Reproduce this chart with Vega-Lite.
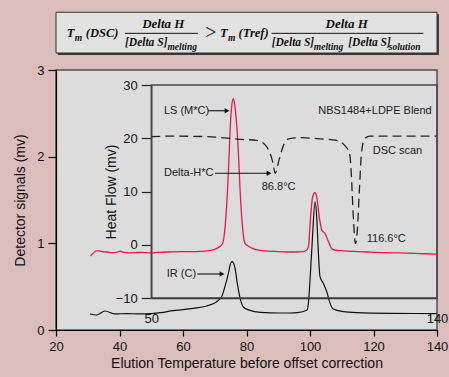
{
  "$schema": "https://vega.github.io/schema/vega-lite/v6.json",
  "width": 381,
  "height": 260,
  "autosize": {"type": "none"},
  "padding": {"left": 56, "top": 70, "right": 12, "bottom": 47},
  "background": "#dbbdbc",
  "config": {
    "view": {"fill": "#dcdcdc", "stroke": "#505050", "strokeWidth": 1.5},
    "axis": {
      "grid": false,
      "labelFont": "Liberation Sans",
      "titleFont": "Liberation Sans",
      "labelFontSize": 13,
      "titleFontSize": 14,
      "titleFontWeight": "normal",
      "labelColor": "#111",
      "titleColor": "#111",
      "domainColor": "#000",
      "tickColor": "#000",
      "domainWidth": 1.2,
      "tickWidth": 1.2,
      "labelFlush": false,
      "labelOverlap": false
    }
  },
  "datasets": {
    "ls": [
      {"T": 30.9, "v": 0.854}, {"T": 31.8, "v": 0.89}, {"T": 33.0, "v": 0.915}, {"T": 34.5, "v": 0.905},
      {"T": 36, "v": 0.9}, {"T": 37.5, "v": 0.893}, {"T": 39, "v": 0.895}, {"T": 40.2, "v": 0.91},
      {"T": 41.5, "v": 0.895}, {"T": 43, "v": 0.89}, {"T": 45, "v": 0.893}, {"T": 47, "v": 0.896},
      {"T": 49.6, "v": 0.89}, {"T": 52, "v": 0.895}, {"T": 55, "v": 0.9}, {"T": 58, "v": 0.902},
      {"T": 61, "v": 0.905}, {"T": 64, "v": 0.905}, {"T": 67, "v": 0.91}, {"T": 70, "v": 0.93},
      {"T": 71.5, "v": 0.96}, {"T": 72.5, "v": 1.0}, {"T": 73.0, "v": 1.1}, {"T": 73.5, "v": 1.3},
      {"T": 74.1, "v": 1.67}, {"T": 74.5, "v": 2.0}, {"T": 75.0, "v": 2.42}, {"T": 75.4, "v": 2.6},
      {"T": 75.85, "v": 2.67}, {"T": 76.3, "v": 2.6}, {"T": 76.8, "v": 2.42}, {"T": 77.3, "v": 2.15},
      {"T": 77.7, "v": 1.85}, {"T": 78.0, "v": 1.6}, {"T": 78.5, "v": 1.3}, {"T": 79.0, "v": 1.1},
      {"T": 79.5, "v": 1.0}, {"T": 80.5, "v": 0.97}, {"T": 82, "v": 0.94}, {"T": 85, "v": 0.915},
      {"T": 90, "v": 0.905}, {"T": 95, "v": 0.9}, {"T": 98, "v": 0.905}, {"T": 99.0, "v": 0.925},
      {"T": 99.5, "v": 0.96}, {"T": 100.2, "v": 1.31}, {"T": 100.85, "v": 1.54}, {"T": 101.57, "v": 1.585},
      {"T": 102.1, "v": 1.54}, {"T": 102.9, "v": 1.31}, {"T": 103.7, "v": 1.154}, {"T": 104.7, "v": 1.115},
      {"T": 105.8, "v": 1.02}, {"T": 106.8, "v": 0.94}, {"T": 108, "v": 0.92}, {"T": 110, "v": 0.915},
      {"T": 112, "v": 0.91}, {"T": 115, "v": 0.905}, {"T": 118, "v": 0.9}, {"T": 121, "v": 0.895},
      {"T": 124, "v": 0.893}, {"T": 127, "v": 0.89}, {"T": 130, "v": 0.887}, {"T": 133, "v": 0.885},
      {"T": 136, "v": 0.88}, {"T": 140, "v": 0.875}
    ],
    "ir": [
      {"T": 30.7, "v": 0.185}, {"T": 32.8, "v": 0.173}, {"T": 35.4, "v": 0.219}, {"T": 38.6, "v": 0.185},
      {"T": 42.3, "v": 0.19}, {"T": 46.5, "v": 0.185}, {"T": 50, "v": 0.19}, {"T": 53, "v": 0.2},
      {"T": 56.9, "v": 0.223}, {"T": 60, "v": 0.235}, {"T": 63.2, "v": 0.25}, {"T": 67.5, "v": 0.277},
      {"T": 70.6, "v": 0.327}, {"T": 72.2, "v": 0.385}, {"T": 73.2, "v": 0.5}, {"T": 74.3, "v": 0.654},
      {"T": 75.0, "v": 0.769}, {"T": 75.5, "v": 0.789}, {"T": 76.4, "v": 0.712}, {"T": 77.1, "v": 0.538},
      {"T": 78.0, "v": 0.365}, {"T": 79.0, "v": 0.265}, {"T": 81.1, "v": 0.227}, {"T": 84.3, "v": 0.204},
      {"T": 90.6, "v": 0.196}, {"T": 93.7, "v": 0.196}, {"T": 96, "v": 0.2}, {"T": 99.0, "v": 0.227},
      {"T": 99.5, "v": 0.31}, {"T": 100.0, "v": 0.577}, {"T": 100.5, "v": 0.885}, {"T": 100.85, "v": 1.115},
      {"T": 101.57, "v": 1.48}, {"T": 102.1, "v": 1.31}, {"T": 102.6, "v": 0.923}, {"T": 103.15, "v": 0.615},
      {"T": 104.2, "v": 0.538}, {"T": 105.3, "v": 0.44}, {"T": 106.3, "v": 0.31}, {"T": 107.3, "v": 0.242},
      {"T": 110.5, "v": 0.212}, {"T": 114.7, "v": 0.2}, {"T": 125.2, "v": 0.192}, {"T": 139.9, "v": 0.19}
    ],
    "dsc": [
      {"T": 50, "h": 20.3}, {"T": 56.9, "h": 20.4}, {"T": 67.5, "h": 20.3}, {"T": 78.0, "h": 19.8},
      {"T": 83.2, "h": 19.6}, {"T": 85.8, "h": 18.8}, {"T": 87.4, "h": 17.2}, {"T": 88.4, "h": 15.2},
      {"T": 89.0, "h": 13.4}, {"T": 90.2, "h": 15.8}, {"T": 91.8, "h": 18.9}, {"T": 93.3, "h": 19.9},
      {"T": 96.9, "h": 20.1}, {"T": 103, "h": 19.9}, {"T": 108.4, "h": 19.6}, {"T": 111.0, "h": 18.6},
      {"T": 112.4, "h": 17.2}, {"T": 112.9, "h": 14.5}, {"T": 113.3, "h": 9.6}, {"T": 113.7, "h": 4.6},
      {"T": 114.3, "h": 0.2}, {"T": 114.9, "h": 2.7}, {"T": 115.6, "h": 10.8}, {"T": 116.2, "h": 17.1},
      {"T": 117.2, "h": 19.9}, {"T": 118.9, "h": 20.4}, {"T": 140, "h": 20.4}
    ],
    "labels": [
      {"T": 54.0, "v": 2.53, "text": "LS (M*C)"},
      {"T": 54.0, "v": 1.808, "text": "Delta-H*C"},
      {"T": 84.8, "v": 1.647, "text": "86.8°C"},
      {"T": 102.6, "v": 2.53, "text": "NBS1484+LDPE Blend"},
      {"T": 119.75, "v": 2.069, "text": "DSC scan"},
      {"T": 117.87, "v": 1.047, "text": "116.6°C"},
      {"T": 54.87, "v": 0.646, "text": "IR (C)"}
    ],
    "arrows": [
      {"T": 67.87, "T2": 73.86, "v": 2.53},
      {"T": 70.08, "T2": 87.09, "v": 1.808},
      {"T": 64.5, "T2": 72.28, "v": 0.646}
    ],
    "formula": [
      {"T": 23.4, "v": 3.427, "text": "T", "part": "main"},
      {"T": 25.9, "v": 3.375, "text": "m", "part": "sub"},
      {"T": 29.4, "v": 3.427, "text": "(DSC)", "part": "main"},
      {"T": 53.8, "v": 3.531, "text": "Delta H", "part": "center"},
      {"T": 41.73, "v": 3.311, "text": "[Delta S]", "part": "den"},
      {"T": 55.1, "v": 3.27, "text": "melting", "part": "sub"},
      {"T": 68.82, "v": 3.427, "text": ">", "part": "op"},
      {"T": 71.65, "v": 3.427, "text": "T", "part": "main"},
      {"T": 74.15, "v": 3.375, "text": "m", "part": "sub"},
      {"T": 77.5, "v": 3.427, "text": "(Tref)", "part": "main"},
      {"T": 111.54, "v": 3.531, "text": "Delta H", "part": "center"},
      {"T": 87.94, "v": 3.311, "text": "[Delta S]", "part": "den"},
      {"T": 101.2, "v": 3.27, "text": "melting", "part": "sub"},
      {"T": 112.06, "v": 3.311, "text": "[Delta S]", "part": "den"},
      {"T": 124.8, "v": 3.27, "text": "solution", "part": "sub"}
    ],
    "fracs": [
      {"T": 41.7, "T2": 64.7, "v": 3.423},
      {"T": 87.9, "T2": 135.7, "v": 3.423}
    ]
  },
  "layer": [
    {
      "layer": [
        {
          "data": {"values": [{}]},
          "mark": {"type": "rect", "color": "#3a3a3a"},
          "encoding": {
            "x": {"datum": 20.6, "type": "quantitative", "scale": {"domain": [20, 140], "nice": false, "zero": false}},
            "x2": {"datum": 140.6},
            "y": {"datum": 3.643, "type": "quantitative", "scale": {"domain": [0, 3], "nice": false, "zero": false}},
            "y2": {"datum": 3.173}
          }
        },
        {
          "data": {"values": [{}]},
          "mark": {"type": "rect", "fill": "#e2e2e2", "stroke": "#333", "strokeWidth": 1},
          "encoding": {
            "x": {"datum": 20, "type": "quantitative"},
            "x2": {"datum": 140},
            "y": {"datum": 3.666, "type": "quantitative"},
            "y2": {"datum": 3.196}
          }
        },
        {
          "data": {"name": "ls"},
          "mark": {"type": "line", "color": "#e8194b", "strokeWidth": 1.3, "interpolate": "monotone"},
          "encoding": {
            "x": {
              "field": "T", "type": "quantitative",
              "scale": {"domain": [20, 140], "nice": false, "zero": false},
              "axis": {
                "title": "Elution Temperature before offset correction",
                "values": [20, 30, 40, 50, 60, 70, 80, 90, 100, 110, 120, 130, 140],
                "labelExpr": "datum.value % 20 === 0 ? datum.label : ''",
                "tickSize": 6, "labelPadding": 4, "titlePadding": 3
              }
            },
            "y": {
              "field": "v", "type": "quantitative",
              "scale": {"domain": [0, 3], "nice": false, "zero": false},
              "axis": {
                "title": "Detector signals (mv)",
                "values": [0, 1, 2, 3],
                "format": "d",
                "tickSize": 8, "labelPadding": 4, "titlePadding": 9
              }
            }
          }
        },
        {
          "data": {"name": "ir"},
          "mark": {"type": "line", "color": "#111", "strokeWidth": 1.2, "interpolate": "monotone"},
          "encoding": {
            "x": {"field": "T", "type": "quantitative"},
            "y": {"field": "v", "type": "quantitative"}
          }
        },
        {
          "data": {"name": "labels"},
          "mark": {"type": "text", "align": "left", "baseline": "middle", "font": "Liberation Sans", "fontSize": 11, "color": "#222"},
          "encoding": {
            "x": {"field": "T", "type": "quantitative"},
            "y": {"field": "v", "type": "quantitative"},
            "text": {"field": "text"}
          }
        },
        {
          "data": {"name": "arrows"},
          "mark": {"type": "rule", "color": "#111", "strokeWidth": 1.1},
          "encoding": {
            "x": {"field": "T", "type": "quantitative"},
            "x2": {"field": "T2"},
            "y": {"field": "v", "type": "quantitative"}
          }
        },
        {
          "data": {"name": "arrows"},
          "mark": {"type": "point", "shape": "triangle-right", "filled": true, "size": 30, "color": "#111", "opacity": 1},
          "encoding": {
            "x": {"field": "T2", "type": "quantitative"},
            "y": {"field": "v", "type": "quantitative"}
          }
        },
        {
          "data": {"name": "fracs"},
          "mark": {"type": "rule", "color": "#111", "strokeWidth": 1},
          "encoding": {
            "x": {"field": "T", "type": "quantitative"},
            "x2": {"field": "T2"},
            "y": {"field": "v", "type": "quantitative"}
          }
        },
        {
          "data": {"name": "formula"},
          "transform": [{"filter": "datum.part === 'main'"}],
          "mark": {"type": "text", "align": "left", "baseline": "middle", "font": "Liberation Serif", "fontStyle": "italic", "fontWeight": "bold", "fontSize": 12.5, "color": "#111"},
          "encoding": {
            "x": {"field": "T", "type": "quantitative"},
            "y": {"field": "v", "type": "quantitative"},
            "text": {"field": "text"}
          }
        },
        {
          "data": {"name": "formula"},
          "transform": [{"filter": "datum.part === 'den'"}],
          "mark": {"type": "text", "align": "left", "baseline": "middle", "font": "Liberation Serif", "fontStyle": "italic", "fontWeight": "bold", "fontSize": 11.5, "color": "#111"},
          "encoding": {
            "x": {"field": "T", "type": "quantitative"},
            "y": {"field": "v", "type": "quantitative"},
            "text": {"field": "text"}
          }
        },
        {
          "data": {"name": "formula"},
          "transform": [{"filter": "datum.part === 'center'"}],
          "mark": {"type": "text", "align": "center", "baseline": "middle", "font": "Liberation Serif", "fontStyle": "italic", "fontWeight": "bold", "fontSize": 13, "color": "#111"},
          "encoding": {
            "x": {"field": "T", "type": "quantitative"},
            "y": {"field": "v", "type": "quantitative"},
            "text": {"field": "text"}
          }
        },
        {
          "data": {"name": "formula"},
          "transform": [{"filter": "datum.part === 'sub'"}],
          "mark": {"type": "text", "align": "left", "baseline": "middle", "font": "Liberation Serif", "fontStyle": "italic", "fontWeight": "bold", "fontSize": 9.5, "color": "#111"},
          "encoding": {
            "x": {"field": "T", "type": "quantitative"},
            "y": {"field": "v", "type": "quantitative"},
            "text": {"field": "text"}
          }
        },
        {
          "data": {"name": "formula"},
          "transform": [{"filter": "datum.part === 'op'"}],
          "mark": {"type": "text", "align": "center", "baseline": "middle", "font": "Liberation Serif", "fontSize": 20, "color": "#111"},
          "encoding": {
            "x": {"field": "T", "type": "quantitative"},
            "y": {"field": "v", "type": "quantitative"},
            "text": {"field": "text"}
          }
        }
      ]
    },
    {
      "layer": [
        {
          "data": {"name": "dsc"},
          "mark": {"type": "line", "color": "#222", "strokeWidth": 1.3, "strokeDash": [9, 5], "interpolate": "monotone"},
          "encoding": {
            "x": {
              "field": "T", "type": "quantitative",
              "scale": {"domain": [50, 140], "range": [95.25, 381], "nice": false, "zero": false},
              "axis": {"orient": "bottom", "offset": -32, "values": [50, 140], "ticks": false, "tickSize": 0, "labelPadding": 14, "title": null, "domainColor": "#333", "domainWidth": 1.3}
            },
            "y": {
              "field": "h", "type": "quantitative",
              "scale": {"domain": [-10, 30], "range": [228, 15], "nice": false, "zero": false},
              "axis": {"orient": "left", "offset": -95.25, "values": [-10, 0, 10, 20, 30], "tickSize": 10, "labelPadding": 4, "title": "Heat Flow (mv)", "titlePadding": -3, "domainColor": "#222", "domainWidth": 1.3, "tickColor": "#222"}
            }
          }
        },
        {
          "data": {"values": [{}]},
          "mark": {"type": "rect", "filled": false, "color": "#444", "strokeWidth": 1.3},
          "encoding": {
            "x": {"datum": 50, "type": "quantitative"},
            "x2": {"datum": 140},
            "y": {"datum": -10, "type": "quantitative"},
            "y2": {"datum": 30}
          }
        }
      ]
    }
  ],
  "resolve": {"scale": {"x": "independent", "y": "independent"}}
}
